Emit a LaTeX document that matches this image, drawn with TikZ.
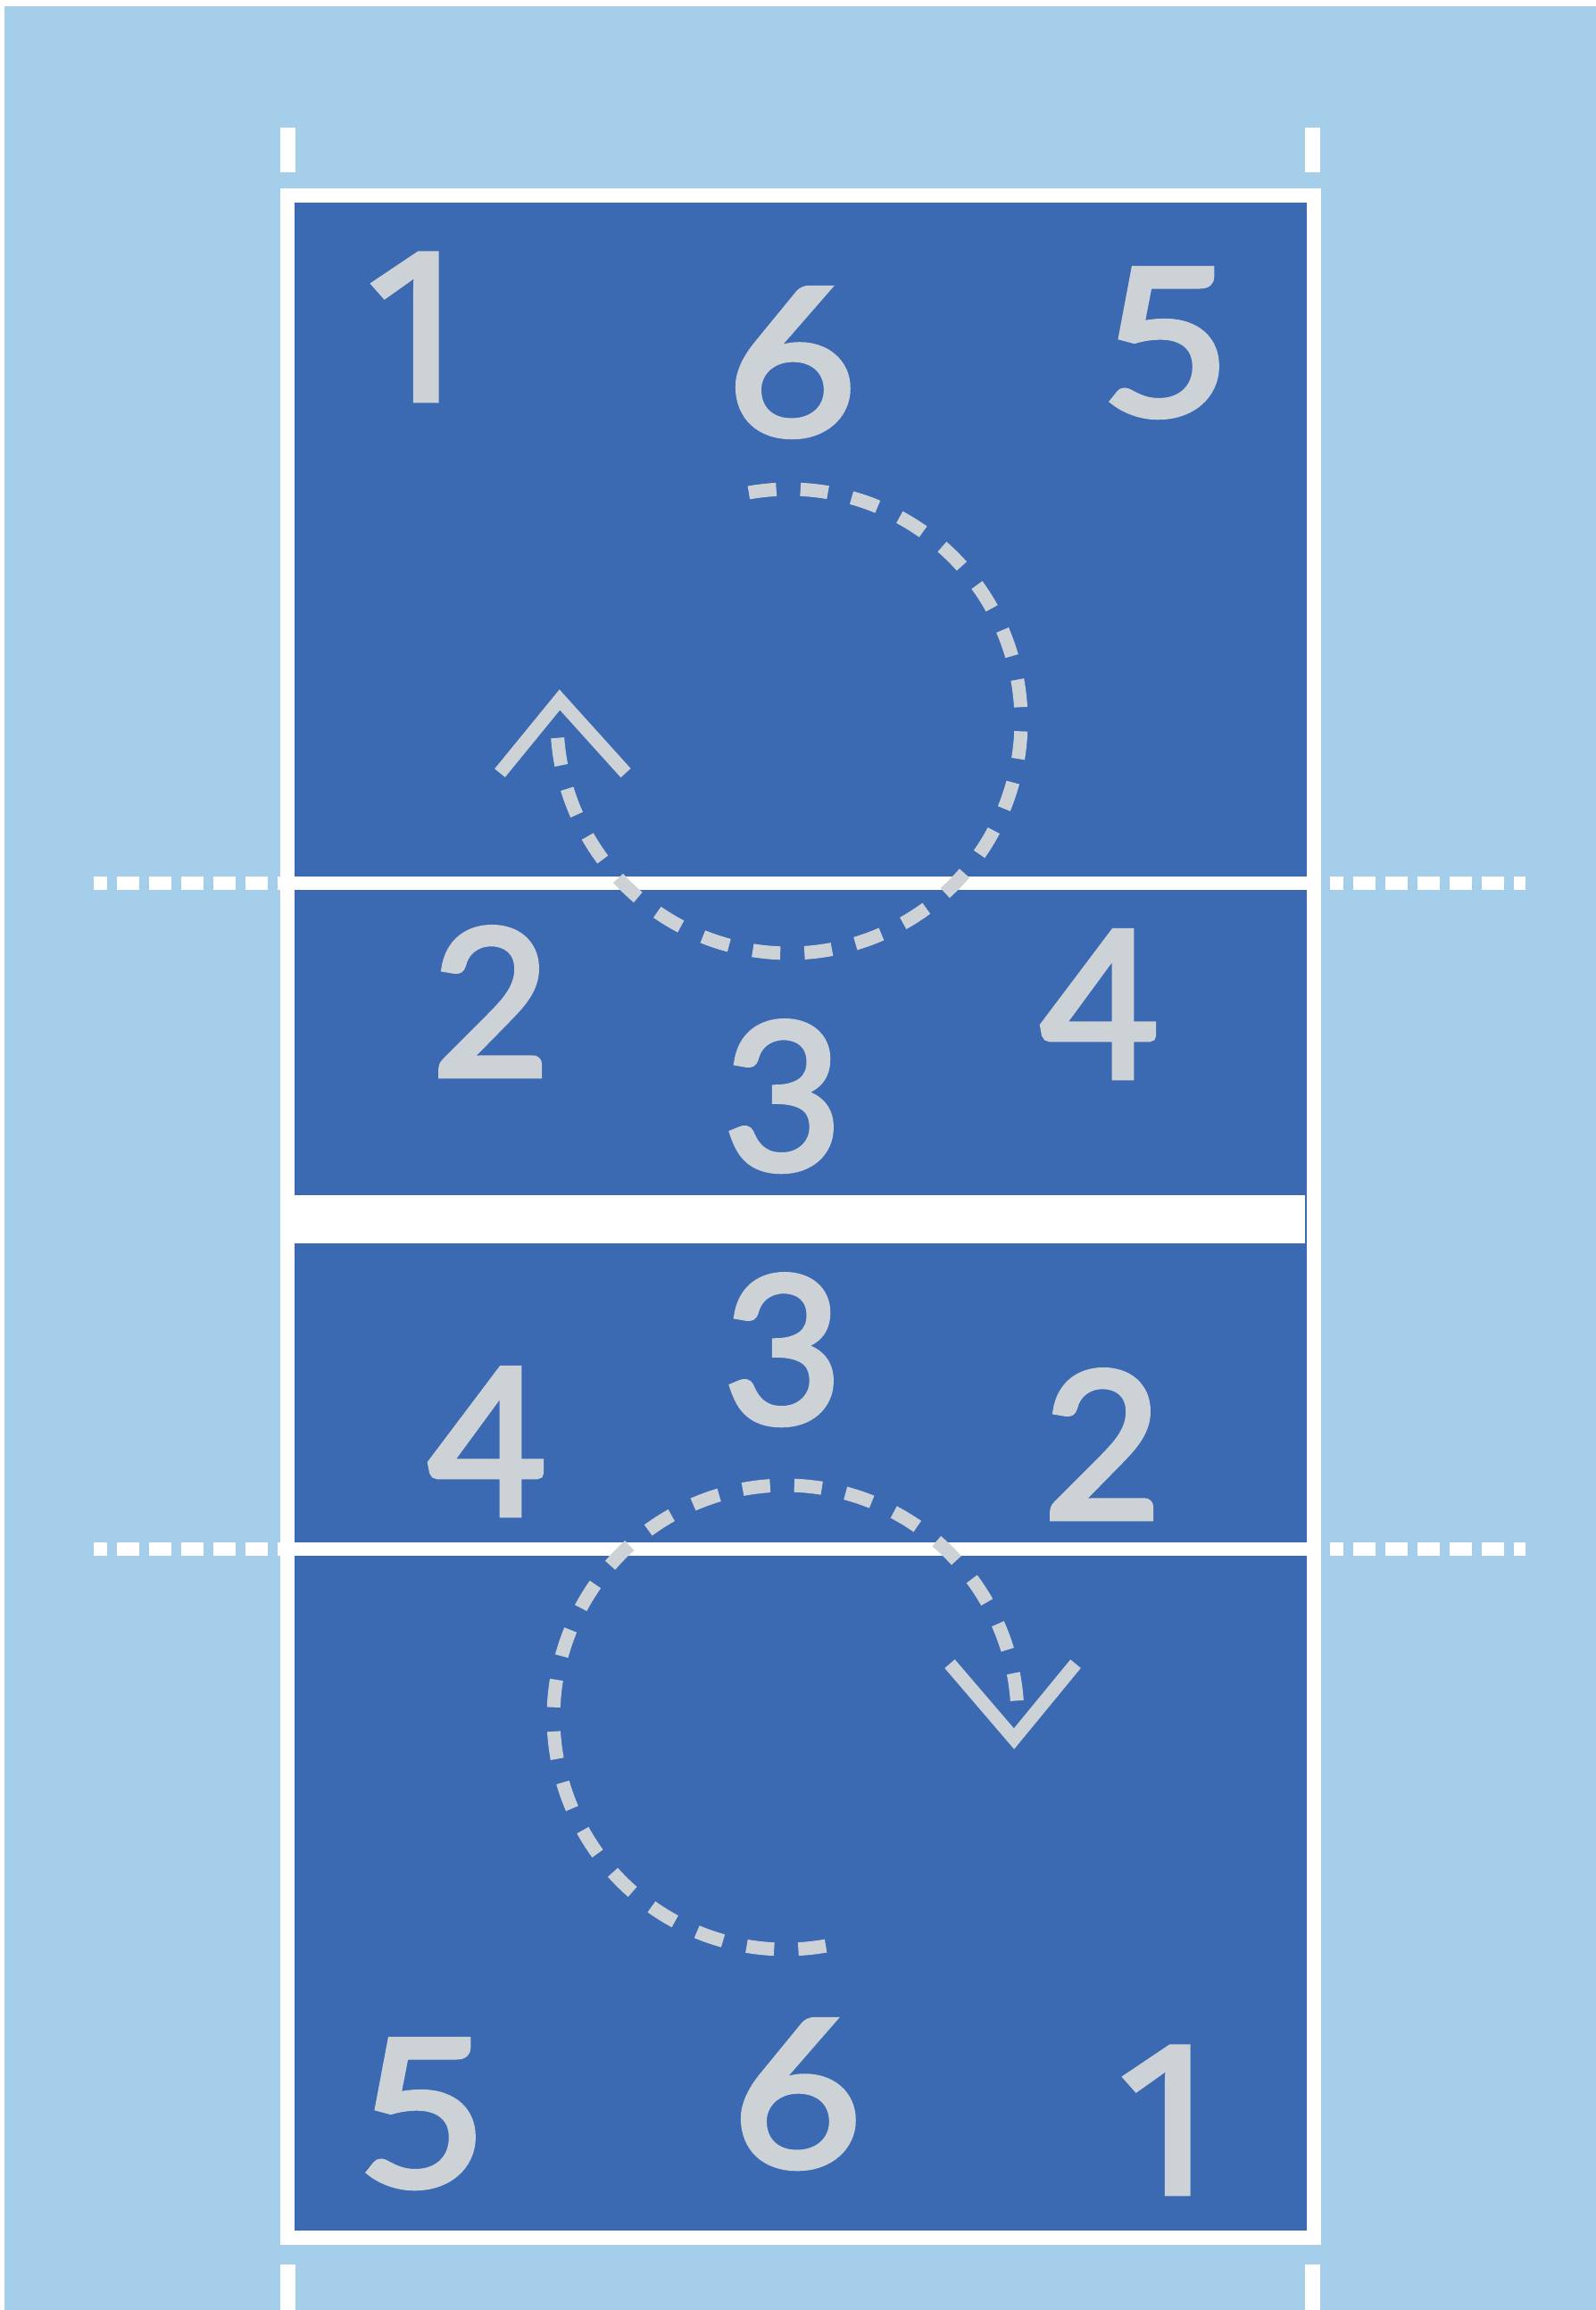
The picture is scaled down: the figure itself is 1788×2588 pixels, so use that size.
\documentclass[tikz,border=0pt]{standalone}
\usepackage{graphicx}
\usepackage{fontspec}
\newfontfamily\digitfont{Lato}[FakeBold=3]
\newfontfamily\onefont{Open Sans}[FakeBold=3]
\definecolor{bgblue}{HTML}{A4CEE9}
\definecolor{courtblue}{HTML}{3B69B2}
\definecolor{numgray}{HTML}{CDD2D7}
\begin{document}
\begin{tikzpicture}[x=0.01cm,y=-0.01cm,
  num/.style={font=\digitfont\fontsize{65}{80}\selectfont, text=numgray, inner sep=0pt, anchor=base},
  numone/.style={num, font=\onefont\fontsize{65}{80}\selectfont},
  rotpath/.style={draw=numgray, line width=0.15cm, dash pattern=on 0.31cm off 0.271cm},
  arrowv/.style={draw=numgray, line width=0.15cm, line join=miter},
  outdash/.style={draw=white, line width=0.15cm, dash pattern=on 0.25cm off 0.11cm, dash phase=0.10cm},
  courtline/.style={draw=white, line width=0.15cm},
  tickmark/.style={fill=white}]
% canvas
\useasboundingbox (0,0) rectangle (1788,2588);
\fill[white] (0,0) rectangle (1788,2588);
\fill[bgblue] (5,7) rectangle (1788,2588);
% court surface
\fill[courtblue] (322,219) rectangle (1472,2507);
% attack line extensions outside the court
\draw[outdash] (105,989.5) -- (314,989.5);
\draw[outdash] (1490,989.5) -- (1709,989.5);
\draw[outdash] (105,1735.5) -- (314,1735.5);
\draw[outdash] (1490,1735.5) -- (1709,1735.5);
% court boundary
\draw[white, line width=0.16cm] (322,219) rectangle (1472,2507);
% attack lines
\draw[courtline] (322,989.5) -- (1472,989.5);
\draw[courtline] (322,1735.5) -- (1472,1735.5);
% net
\fill[white] (322,1339) rectangle (1462,1393);
% tick marks
\fill[tickmark] (314,143) rectangle (331,193);
\fill[tickmark] (1462,143) rectangle (1479,193);
\fill[tickmark] (314,2537) rectangle (331,2588);
\fill[tickmark] (1462,2537) rectangle (1479,2588);
% player positions, top half
\node[numone] (t1) at (471,448) {\scalebox{1.15}[1]{1}};
\node[num] (t6) at (887,487) {\scalebox{1.1}[1]{6}};
\node[num] (t5) at (1306,465) {\scalebox{1.1}[1]{5}};
\node[num] (t2) at (550,1205) {2};
\node[num] (t3) at (877,1310) {3};
\node[num] (t4) at (1232,1207) {4};
% player positions, bottom half
\node[num] (b3) at (877,1594) {3};
\node[num] (b4) at (546,1697) {4};
\node[num] (b2) at (1235,1701) {2};
\node[num] (b5) at (473,2449) {\scalebox{1.1}[1]{5}};
\node[num] (b6) at (893,2427) {\scalebox{1.1}[1]{6}};
\node[numone] (b1) at (1313,2457) {\scalebox{1.15}[1]{1}};
% rotation paths
\draw[rotpath] plot[domain=100:-176, samples=240] ({884+260*cos(\x)}, {808-260*sin(\x)});
\draw[rotpath] plot[domain=280:4, samples=240] ({880+260*cos(\x)}, {1924-260*sin(\x)});
% arrow heads
\coordinate (ta) at (627,784);
\coordinate (tl) at (560,866);
\coordinate (tr) at (701,866);
\draw[arrowv] (tl) -- (ta) -- (tr);
\coordinate (ba) at (1136,1948);
\coordinate (bl) at (1064,1864);
\coordinate (br) at (1205,1864);
\draw[arrowv] (bl) -- (ba) -- (br);
\end{tikzpicture}
\end{document}
